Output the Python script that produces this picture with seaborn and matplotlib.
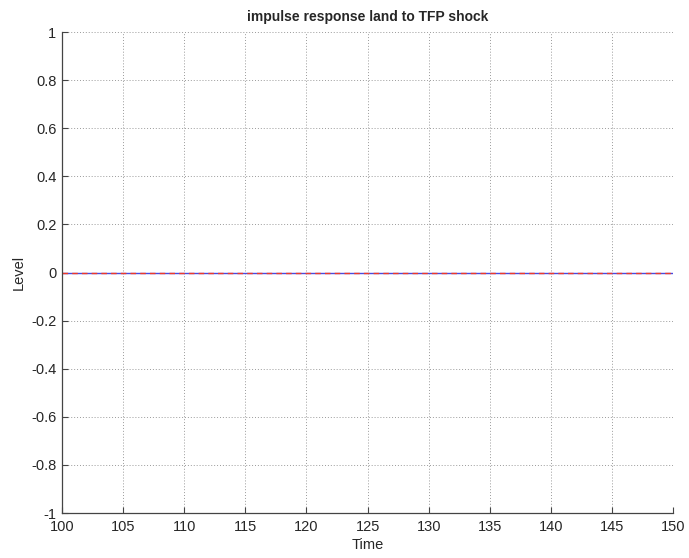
import numpy as np
import pandas as pd
import matplotlib
matplotlib.use("Agg")
import matplotlib.pyplot as plt
import seaborn as sns

# Impulse response of land to a TFP shock (periods 100-150)
periods = list(range(100, 151))
response_model = [0.0] * len(periods)
response_steady = [0.0] * len(periods)

x_ticks = [100, 105, 110, 115, 120, 125, 130, 135, 140, 145, 150]
y_ticks = [-1, -0.8, -0.6, -0.4, -0.2, 0, 0.2, 0.4, 0.6, 0.8, 1]
y_tick_labels = ["-1", "-0.8", "-0.6", "-0.4", "-0.2", "0", "0.2", "0.4", "0.6", "0.8", "1"]

df = pd.DataFrame({"Time": periods, "model": response_model, "steady": response_steady})

sns.set_style("white")
plt.rcParams["font.family"] = ["Liberation Sans", "DejaVu Sans"]

fig = plt.figure(figsize=(6.89, 5.58), dpi=100)
ax = fig.add_axes([0.090, 0.0806, 0.887, 0.862])

sns.lineplot(data=df, x="Time", y="model", ax=ax, color="#4a4adf", linewidth=1.0)
sns.lineplot(data=df, x="Time", y="steady", ax=ax, color="#ee3a2a", linewidth=1.0,
             linestyle=(0, (4, 3)))

ax.set_xlim(100, 150)
ax.set_ylim(-1, 1)
ax.set_xticks(x_ticks)
ax.set_yticks(y_ticks)
ax.set_yticklabels(y_tick_labels)
ax.grid(True, linestyle=(0, (1, 2)), color="#9a9a9a", linewidth=0.7)
ax.tick_params(direction="in", length=4, labelsize=10.5, color="#444444", left=True, bottom=True)
ax.tick_params(axis="x", pad=5)
ax.tick_params(axis="y", pad=4)
for s in ["top", "right"]:
    ax.spines[s].set_visible(False)
for s in ["left", "bottom"]:
    ax.spines[s].set_color("#444444")
    ax.spines[s].set_linewidth(0.9)

ax.set_xlabel("Time", fontsize=10.5, labelpad=3)
ax.set_ylabel("Level", fontsize=10.5, labelpad=4)
ax.set_title("impulse response land to TFP shock", fontsize=10, fontweight="bold", pad=8)

fig.savefig("out.png", dpi=100)
